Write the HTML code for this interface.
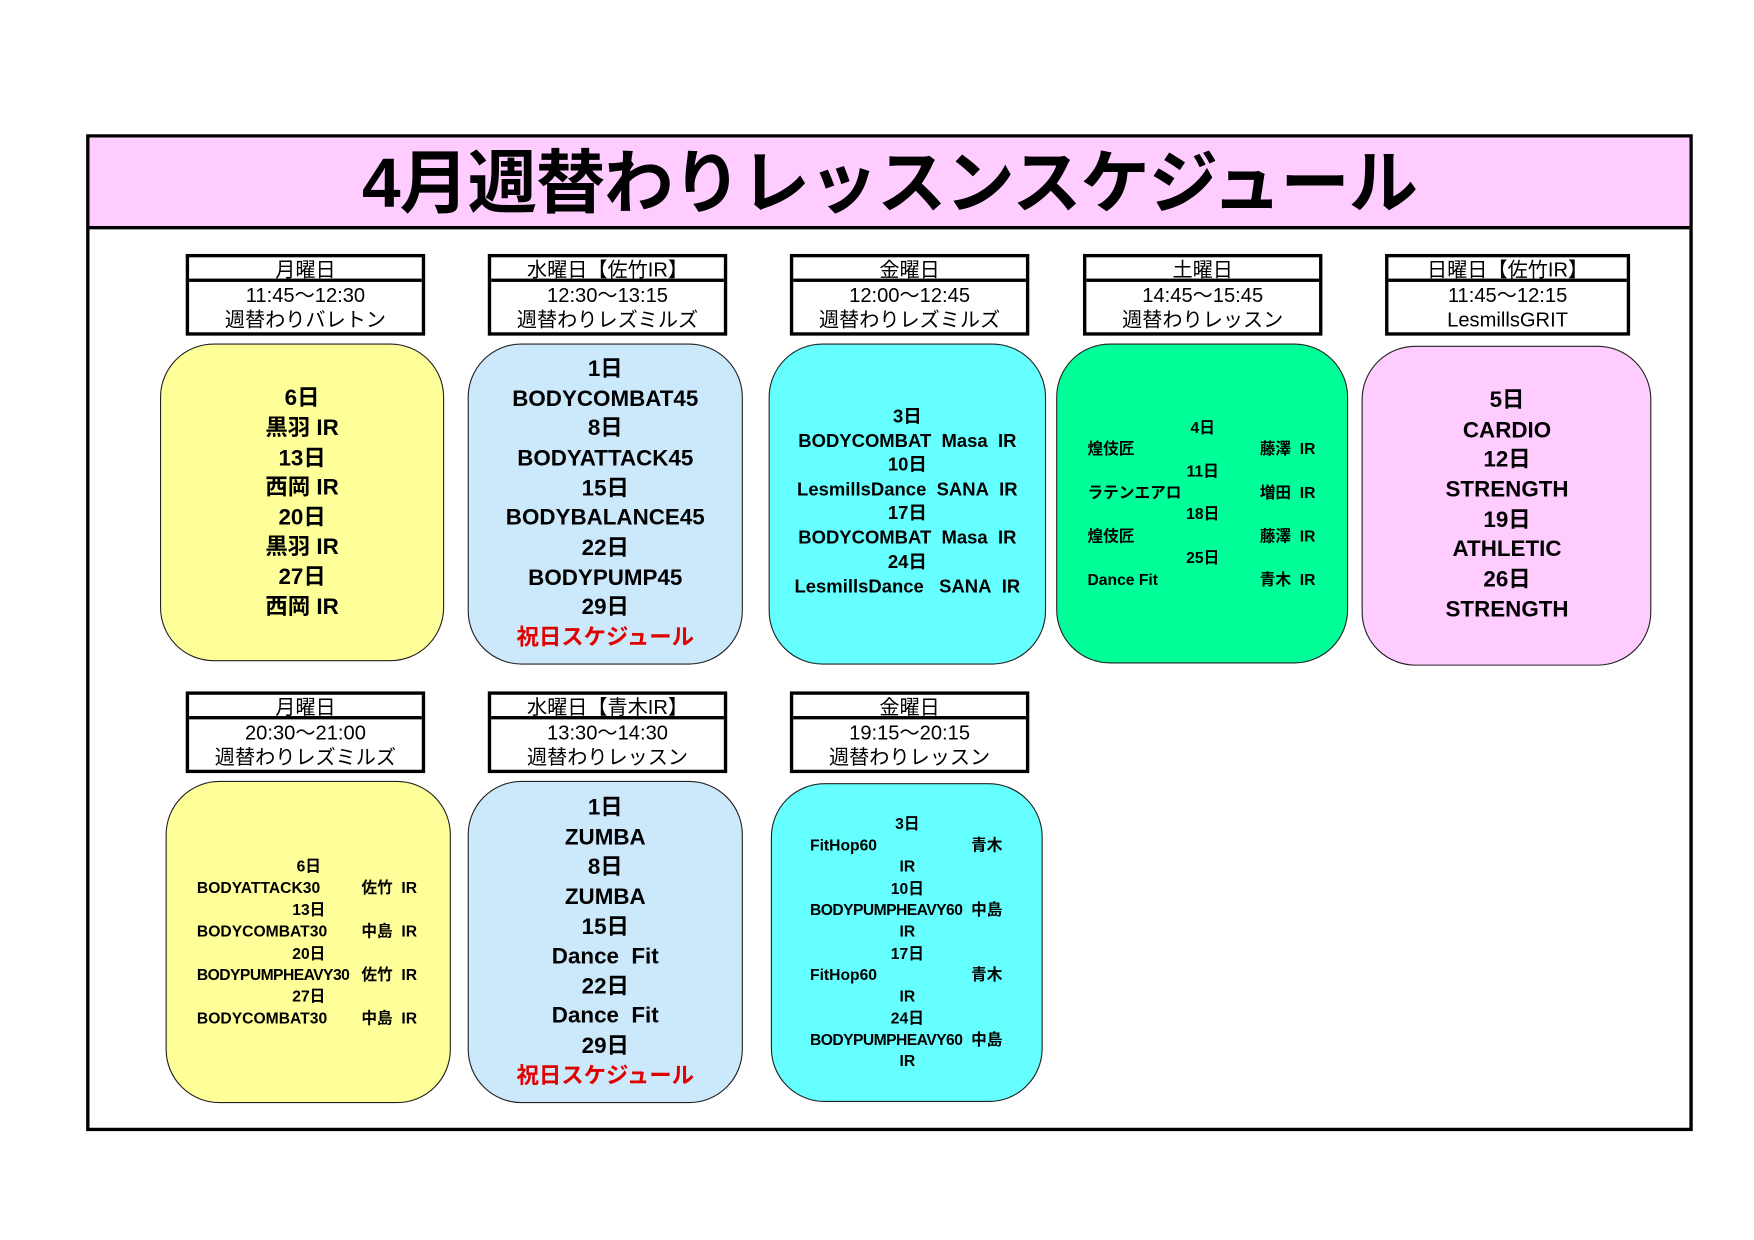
<!DOCTYPE html>
<html><head><meta charset="utf-8"><style>
html,body{margin:0;padding:0;background:#fff;width:1754px;height:1240px;overflow:hidden}
#w{position:absolute;left:0;top:0;width:1560px;height:1103px;transform:scale(1.1188);transform-origin:0 0;font-family:"Liberation Sans","Noto Sans CJK JP",sans-serif}
.a{position:absolute;box-sizing:border-box}
.h{position:absolute;box-sizing:border-box;border:3px solid #000;background:#fff;font-size:18px;text-align:center;line-height:1}
.h div{box-sizing:border-box}
.h .r1{height:22px;border-bottom:3px solid #000;line-height:22px}
.h .r2{line-height:22px;padding-top:1px}
.b{position:absolute;box-sizing:border-box;border:1.5px solid #222;border-radius:48px}
.c,.l{position:absolute;font-weight:bold;line-height:1;white-space:nowrap;transform:translateY(-50%)}
.c{width:400px;margin-left:-200px;text-align:center}
.f20{font-size:20px}.f17{font-size:16.5px}.f14{font-size:14px}
.red{color:#e00000}
</style></head><body><div id="w">
<div class="a" style="left:77px;top:120px;width:1436px;height:891px;border:3px solid #000"></div>
<div class="a" style="left:80px;top:123px;width:1430px;height:82px;background:#ffccff;border-bottom:3px solid #000"></div>
<div class="c" style="left:795px;top:165px;width:1200px;margin-left:-600px;font-size:62px;letter-spacing:-1px">4月週替わりレッスンスケジュール</div>

<div class="h" style="left:166px;top:227px;width:214px;height:73px"><div class="r1">月曜日</div><div class="r2">11:45～12:30<br>週替わりバレトン</div></div>
<div class="h" style="left:436px;top:227px;width:214px;height:73px"><div class="r1">水曜日【佐竹IR】</div><div class="r2">12:30～13:15<br>週替わりレズミルズ</div></div>
<div class="h" style="left:706px;top:227px;width:214px;height:73px"><div class="r1">金曜日</div><div class="r2">12:00～12:45<br>週替わりレズミルズ</div></div>
<div class="h" style="left:968px;top:227px;width:214px;height:73px"><div class="r1">土曜日</div><div class="r2">14:45～15:45<br>週替わりレッスン</div></div>
<div class="h" style="left:1238px;top:227px;width:219px;height:73px"><div class="r1">日曜日【佐竹IR】</div><div class="r2">11:45～12:15<br>LesmillsGRIT</div></div>
<div class="h" style="left:166px;top:618px;width:214px;height:73px"><div class="r1">月曜日</div><div class="r2">20:30～21:00<br>週替わりレズミルズ</div></div>
<div class="h" style="left:436px;top:618px;width:214px;height:73px"><div class="r1">水曜日【青木IR】</div><div class="r2">13:30～14:30<br>週替わりレッスン</div></div>
<div class="h" style="left:706px;top:618px;width:214px;height:73px"><div class="r1">金曜日</div><div class="r2">19:15～20:15<br>週替わりレッスン</div></div>

<div class="b" style="left:143px;top:307px;width:254px;height:284px;background:#ffff99"></div>
<div class="b" style="left:418px;top:307px;width:246px;height:287px;background:#cce9fb"></div>
<div class="b" style="left:687px;top:307px;width:248px;height:287px;background:#66ffff"></div>
<div class="b" style="left:944px;top:307px;width:261px;height:286px;background:#00ff99"></div>
<div class="b" style="left:1217px;top:309px;width:259px;height:286px;background:#ffccff"></div>
<div class="b" style="left:148px;top:698px;width:255px;height:288px;background:#ffff99"></div>
<div class="b" style="left:418px;top:698px;width:246px;height:288px;background:#cce9fb"></div>
<div class="b" style="left:689px;top:700px;width:243px;height:285px;background:#66ffff"></div>

<div class="c f20" style="left:270px;top:356px">6日</div>
<div class="c f20" style="left:270px;top:383px">黒羽 IR</div>
<div class="c f20" style="left:270px;top:410px">13日</div>
<div class="c f20" style="left:270px;top:436px">西岡 IR</div>
<div class="c f20" style="left:270px;top:463px">20日</div>
<div class="c f20" style="left:270px;top:489px">黒羽 IR</div>
<div class="c f20" style="left:270px;top:516px">27日</div>
<div class="c f20" style="left:270px;top:543px">西岡 IR</div>

<div class="c f20" style="left:541px;top:330px">1日</div>
<div class="c f20" style="left:541px;top:357px">BODYCOMBAT45</div>
<div class="c f20" style="left:541px;top:383px">8日</div>
<div class="c f20" style="left:541px;top:410px">BODYATTACK45</div>
<div class="c f20" style="left:541px;top:437px">15日</div>
<div class="c f20" style="left:541px;top:463px">BODYBALANCE45</div>
<div class="c f20" style="left:541px;top:490px">22日</div>
<div class="c f20" style="left:541px;top:517px">BODYPUMP45</div>
<div class="c f20" style="left:541px;top:543px">29日</div>
<div class="c f20 red" style="left:541px;top:570px">祝日スケジュール</div>

<div class="c f17" style="left:811px;top:373px">3日</div>
<div class="c f17" style="left:811px;top:395px">BODYCOMBAT&nbsp; Masa&nbsp; IR</div>
<div class="c f17" style="left:811px;top:416px">10日</div>
<div class="c f17" style="left:811px;top:438px">LesmillsDance&nbsp; SANA&nbsp; IR</div>
<div class="c f17" style="left:811px;top:459px">17日</div>
<div class="c f17" style="left:811px;top:481px">BODYCOMBAT&nbsp; Masa&nbsp; IR</div>
<div class="c f17" style="left:811px;top:503px">24日</div>
<div class="c f17" style="left:811px;top:525px">LesmillsDance&nbsp;&nbsp; SANA&nbsp; IR</div>

<div class="c f14" style="left:1075px;top:382px">4日</div>
<div class="l f14" style="left:972px;top:401px">煌伎匠</div><div class="l f14" style="left:1126px;top:401px">藤澤&nbsp; IR</div>
<div class="c f14" style="left:1075px;top:421px">11日</div>
<div class="l f14" style="left:972px;top:440px">ラテンエアロ</div><div class="l f14" style="left:1126px;top:440px">増田&nbsp; IR</div>
<div class="c f14" style="left:1075px;top:459px">18日</div>
<div class="l f14" style="left:972px;top:479px">煌伎匠</div><div class="l f14" style="left:1126px;top:479px">藤澤&nbsp; IR</div>
<div class="c f14" style="left:1075px;top:498px">25日</div>
<div class="l f14" style="left:972px;top:518px">Dance Fit</div><div class="l f14" style="left:1126px;top:518px">青木&nbsp; IR</div>

<div class="c f20" style="left:1347px;top:358px">5日</div>
<div class="c f20" style="left:1347px;top:385px">CARDIO</div>
<div class="c f20" style="left:1347px;top:411px">12日</div>
<div class="c f20" style="left:1347px;top:438px">STRENGTH</div>
<div class="c f20" style="left:1347px;top:465px">19日</div>
<div class="c f20" style="left:1347px;top:491px">ATHLETIC</div>
<div class="c f20" style="left:1347px;top:518px">26日</div>
<div class="c f20" style="left:1347px;top:545px">STRENGTH</div>

<div class="c f14" style="left:276px;top:774px">6日</div>
<div class="l f14" style="left:176px;top:793px">BODYATTACK30</div><div class="l f14" style="left:323px;top:793px">佐竹&nbsp; IR</div>
<div class="c f14" style="left:276px;top:813px">13日</div>
<div class="l f14" style="left:176px;top:832px">BODYCOMBAT30</div><div class="l f14" style="left:323px;top:832px">中島&nbsp; IR</div>
<div class="c f14" style="left:276px;top:852px">20日</div>
<div class="l f14" style="left:176px;top:871px;letter-spacing:-0.5px">BODYPUMPHEAVY30</div><div class="l f14" style="left:323px;top:871px">佐竹&nbsp; IR</div>
<div class="c f14" style="left:276px;top:890px">27日</div>
<div class="l f14" style="left:176px;top:910px">BODYCOMBAT30</div><div class="l f14" style="left:323px;top:910px">中島&nbsp; IR</div>

<div class="c f20" style="left:541px;top:722px">1日</div>
<div class="c f20" style="left:541px;top:749px">ZUMBA</div>
<div class="c f20" style="left:541px;top:775px">8日</div>
<div class="c f20" style="left:541px;top:802px">ZUMBA</div>
<div class="c f20" style="left:541px;top:829px">15日</div>
<div class="c f20" style="left:541px;top:855px">Dance&nbsp; Fit</div>
<div class="c f20" style="left:541px;top:882px">22日</div>
<div class="c f20" style="left:541px;top:908px">Dance&nbsp; Fit</div>
<div class="c f20" style="left:541px;top:935px">29日</div>
<div class="c f20 red" style="left:541px;top:962px">祝日スケジュール</div>

<div class="c f14" style="left:811px;top:736px">3日</div>
<div class="l f14" style="left:724px;top:755px">FitHop60</div><div class="l f14" style="left:868px;top:755px">青木</div>
<div class="c f14" style="left:811px;top:774px">IR</div>
<div class="c f14" style="left:811px;top:794px">10日</div>
<div class="l f14" style="left:724px;top:813px;letter-spacing:-0.5px">BODYPUMPHEAVY60</div><div class="l f14" style="left:868px;top:813px">中島</div>
<div class="c f14" style="left:811px;top:832px">IR</div>
<div class="c f14" style="left:811px;top:852px">17日</div>
<div class="l f14" style="left:724px;top:871px">FitHop60</div><div class="l f14" style="left:868px;top:871px">青木</div>
<div class="c f14" style="left:811px;top:890px">IR</div>
<div class="c f14" style="left:811px;top:910px">24日</div>
<div class="l f14" style="left:724px;top:929px;letter-spacing:-0.5px">BODYPUMPHEAVY60</div><div class="l f14" style="left:868px;top:929px">中島</div>
<div class="c f14" style="left:811px;top:948px">IR</div>
</div></body></html>
